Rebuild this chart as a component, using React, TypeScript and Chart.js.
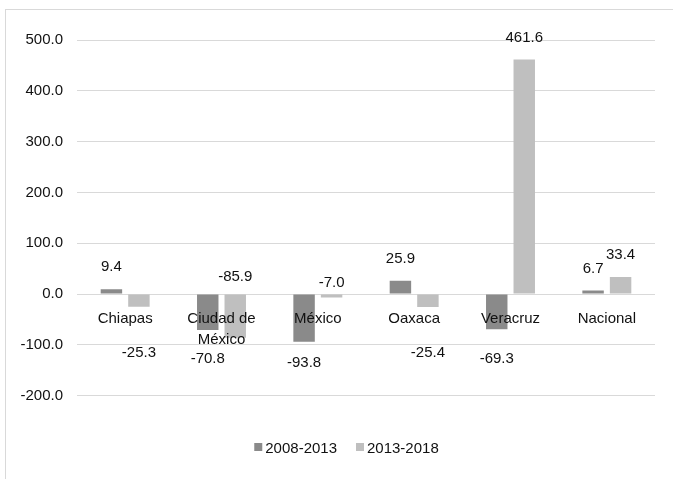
import React, { useEffect, useRef } from "react";
import { Chart, registerables } from "chart.js";

Chart.register(...registerables);

const categories: (string | string[])[] = ["Chiapas", ["Ciudad de", "México"], "México", "Oaxaca", "Veracruz", "Nacional"];
const seriesLabels = ["2008-2013", "2013-2018"];
const values2008_2013 = [9.4, -70.8, -93.8, 25.9, -69.3, 6.7];
const values2013_2018 = [-25.3, -85.9, -7.0, -25.4, 461.6, 33.4];
const yTicks = [-200, -100, 0, 100, 200, 300, 400, 500];

const COLORS = ["#8a8a8a", "#bfbfbf"];
const FONT = "'Liberation Sans', Arial, sans-serif";
const TEXT = "#111111";
const GRID = "#d9d9d9";
// labels moved above the zero line (dataset-index: px above zero)
const LABEL_ABOVE_ZERO: Record<string, number> = { "1-1": 17, "1-2": 11 };

const dataLabelPlugin = {
  id: "dataLabels",
  afterDatasetsDraw(chart: any) {
    const ctx = chart.ctx;
    const zeroY = chart.scales.y.getPixelForValue(0);
    ctx.save();
    ctx.font = `15px ${FONT}`;
    ctx.fillStyle = TEXT;
    ctx.textAlign = "center";
    ctx.textBaseline = "middle";
    chart.data.datasets.forEach((ds: any, di: number) => {
      const meta = chart.getDatasetMeta(di);
      meta.data.forEach((bar: any, i: number) => {
        const v = ds.data[i] as number;
        let y: number;
        const key = `${di}-${i}`;
        if (LABEL_ABOVE_ZERO[key] !== undefined) y = zeroY - LABEL_ABOVE_ZERO[key];
        else if (v >= 0) y = bar.y - 22;
        else y = zeroY + 54.8 + (bar.y - zeroY) * 0.29;
        ctx.fillText(v.toFixed(1), bar.x, y);
      });
    });
    ctx.restore();
  },
};

const legendPlugin = {
  id: "customLegend",
  afterDraw(chart: any) {
    const ctx = chart.ctx;
    ctx.save();
    ctx.font = `15px ${FONT}`;
    ctx.textBaseline = "middle";
    ctx.textAlign = "left";
    const box = 8;
    const gap = 3;
    const spacing = 19;
    const items = chart.data.datasets.map((ds: any) => ({
      label: ds.label,
      color: ds.backgroundColor,
      w: ctx.measureText(ds.label).width,
    }));
    const total = items.reduce((s: number, it: any) => s + box + gap + it.w, 0) + spacing * (items.length - 1);
    let x = chart.width / 2 - total / 2;
    const cy = 448.5;
    items.forEach((it: any) => {
      ctx.fillStyle = it.color;
      ctx.fillRect(x, cy - 5.5, box, box);
      ctx.fillStyle = TEXT;
      ctx.fillText(it.label, x + box + gap, cy);
      x += box + gap + it.w + spacing;
    });
    ctx.restore();
  },
};

export default function App() {
  const ref = useRef<HTMLCanvasElement | null>(null);
  useEffect(() => {
    if (!ref.current) return;
    Chart.defaults.font.family = FONT;
    Chart.defaults.font.size = 15;
    Chart.defaults.color = TEXT;
    const chart = new Chart(ref.current, {
      type: "bar",
      data: {
        labels: categories,
        datasets: [
          { label: seriesLabels[0], data: values2008_2013, backgroundColor: COLORS[0] },
          { label: seriesLabels[1], data: values2013_2018, backgroundColor: COLORS[1] },
        ],
      },
      options: {
        animation: false,
        responsive: false,
        devicePixelRatio: 1,
        layout: { padding: { left: 0, right: 38, top: 40, bottom: 83.4 } },
        datasets: { bar: { categoryPercentage: 0.571, barPercentage: 0.78 } },
        plugins: { legend: { display: false }, tooltip: { enabled: false } },
        scales: {
          x: {
            position: { y: 0 } as any,
            grid: { display: false },
            border: { display: false },
            ticks: {
              z: 1,
              padding: 6,
              maxRotation: 0,
              autoSkip: false,
              font: { size: 15, family: FONT, lineHeight: 1.4 },
              color: TEXT,
            },
          },
          y: {
            min: -200,
            max: 500,
            afterBuildTicks: (scale: any) => {
              scale.ticks = yTicks.map((v) => ({ value: v }));
            },
            afterFit: (scale: any) => {
              scale.width = 77;
            },
            grid: { color: GRID, drawTicks: false, lineWidth: 1 },
            border: { display: false },
            ticks: {
              padding: 14,
              font: { size: 15, family: FONT },
              color: TEXT,
              callback: (v: any) => Number(v).toFixed(1),
            },
          },
        },
      },
      plugins: [dataLabelPlugin, legendPlugin],
    });
    return () => chart.destroy();
  }, []);

  return (
    <div style={{ position: "fixed", left: 0, top: 0, width: 673, height: 479, overflow: "hidden", background: "#fff" }}>
      <div
        style={{
          position: "absolute",
          left: 5,
          top: 9,
          width: 700,
          height: 500,
          border: "1px solid #d9d9d9",
          boxSizing: "border-box",
        }}
      />
      <canvas ref={ref} width={693} height={479} style={{ position: "absolute", left: 0, top: 0, width: 693, height: 479 }} />
    </div>
  );
}
